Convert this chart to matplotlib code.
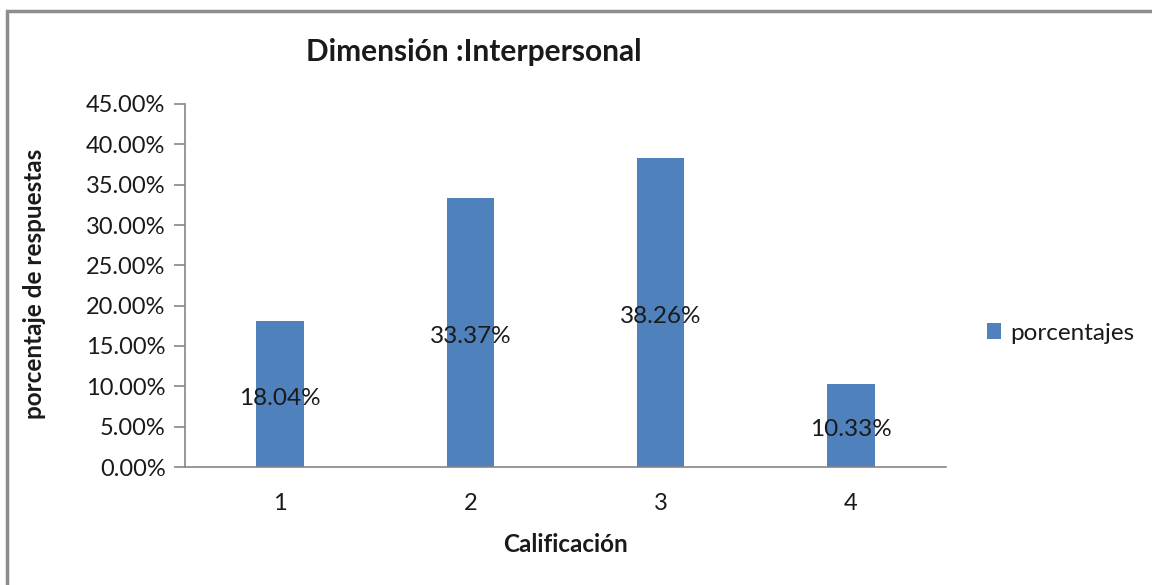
import matplotlib
matplotlib.use("Agg")
import matplotlib.pyplot as plt
from matplotlib.patches import Rectangle
from matplotlib.ticker import FuncFormatter, MultipleLocator

plt.rcParams['font.family'] = ['Lato', 'DejaVu Sans']

categories = ["1", "2", "3", "4"]
porcentajes = [0.1804, 0.3337, 0.3826, 0.1033]
series_name = "porcentajes"
title = "Dimensión :Interpersonal"
xlabel = "Calificación"
ylabel = "porcentaje de respuestas"

bar_color = "#4F81BD"
axis_color = "#868686"
text_color = "#1a1a1a"

fig = plt.figure(figsize=(11.52, 5.85), dpi=100)
fig.patch.set_facecolor("white")

# chart frame
fig.add_artist(Rectangle((7 / 1152, -0.05), 1.2, 1 - 11 / 585 + 0.05,
                         transform=fig.transFigure, fill=False,
                         edgecolor="#8c8c8c", linewidth=2.5))

ax = fig.add_axes([185 / 1152, 1 - 467 / 585, (946 - 185) / 1152, (467 - 104) / 585])
x = list(range(len(categories)))
bars = ax.bar(x, porcentajes, width=0.25, color=bar_color, label=series_name, zorder=2)

ax.set_xlim(-0.5, len(categories) - 0.5)
ax.set_ylim(0, 0.45)
ax.yaxis.set_major_locator(MultipleLocator(0.05))
ax.yaxis.set_major_formatter(FuncFormatter(lambda v, p: f"{v * 100:.2f}%"))
ax.set_xticks(x)
ax.set_xticklabels(categories)

for s in ["top", "right"]:
    ax.spines[s].set_visible(False)
for s in ["left", "bottom"]:
    ax.spines[s].set_color(axis_color)
    ax.spines[s].set_linewidth(1.2)

ax.tick_params(axis="y", length=8, width=1.2, color=axis_color, labelsize=17,
               labelcolor=text_color, pad=6)
ax.tick_params(axis="x", length=0, labelsize=17, labelcolor=text_color, pad=19)

# value labels centred in each bar
for rect, v in zip(bars, porcentajes):
    ax.annotate(f"{v * 100:.2f}%", (rect.get_x() + rect.get_width() / 2, v / 2),
                xytext=(0, -3), textcoords="offset points",
                ha="center", va="center", fontsize=17.5, color=text_color, zorder=3)

fig.text(566 / 1152, 1 - 545 / 585, xlabel, ha="center", va="center",
         fontsize=17.5, fontweight="bold", color=text_color)
fig.text(35 / 1152, 1 - 284 / 585, ylabel, ha="center", va="center", rotation=90,
         fontsize=17.5, fontweight="bold", color=text_color)
fig.text(474 / 1152, 1 - 52 / 585, title, ha="center", va="center",
         fontsize=21.5, fontweight="bold", color=text_color)

leg = fig.legend(handles=[bars], labels=[series_name], loc="center left",
                 bbox_to_anchor=(982 / 1152, 1 - 333 / 585), frameon=False,
                 fontsize=17.5, handlelength=0.6, handleheight=0.6, handletextpad=0.35,
                 labelcolor=text_color, borderpad=0.2, borderaxespad=0)

fig.savefig("out.png", dpi=100, facecolor="white")
